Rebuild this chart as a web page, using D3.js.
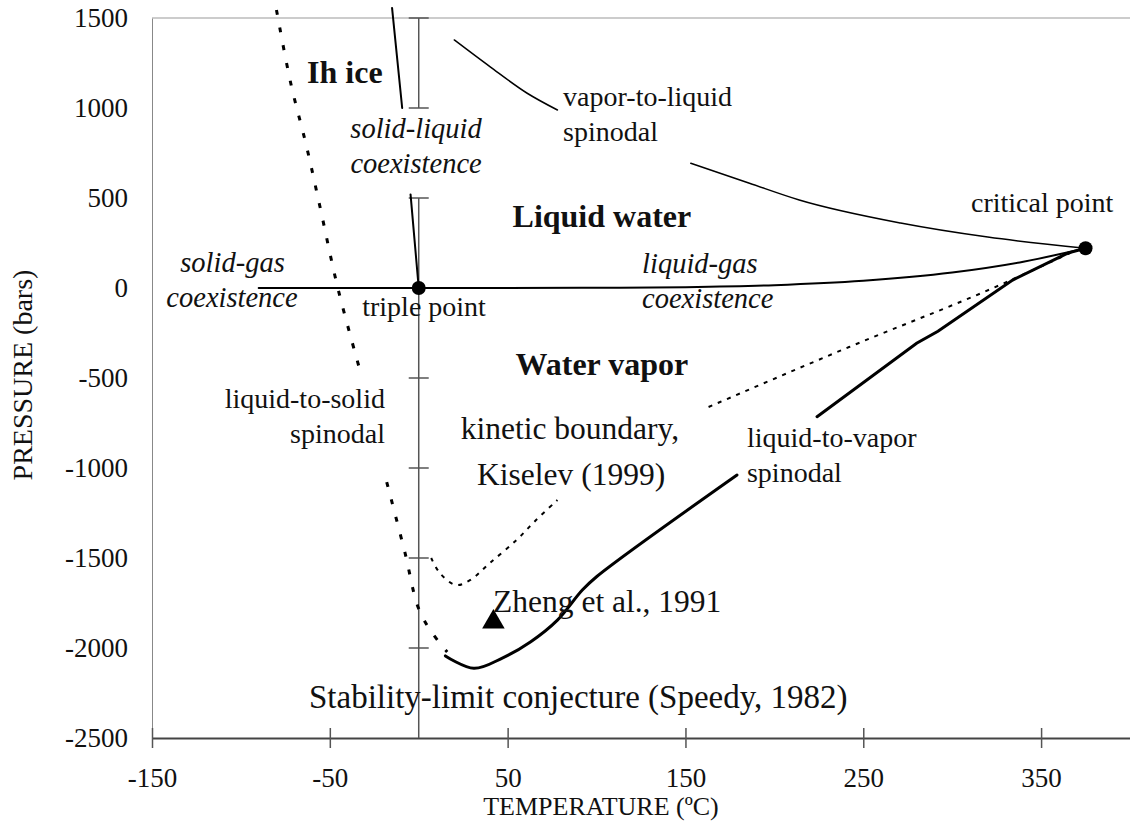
<!DOCTYPE html>
<html>
<head>
<meta charset="utf-8">
<script src="https://cdn.jsdelivr.net/npm/d3@7"></script>
<style>
  body { margin: 0; background: #fff; }
  svg { display: block; font-family: "Liberation Serif", "Times New Roman", serif; }
  svg text { font-family: "Liberation Serif", "Times New Roman", serif; fill: #111; }
</style>
</head>
<body>
<div id="chart"></div>
<script>
// ---- data (T in degC, P in bars) ----
const xTicks = [-150, -50, 50, 150, 250, 350];
const yTicks = [-2500, -2000, -1500, -1000, -500, 0, 500, 1000, 1500];
const zeroAxisTicks = [1500, 1000, 500, 0, -500, -1000, -1500, -2000];

const solidGas = [[-90, 0], [0, 0]];
const liquidGas = [[0, 0], [50, 0.12], [100, 1], [150, 4.8], [200, 15.5], [250, 39.8], [300, 85.9], [340, 146], [375, 221]];
const solidLiquidLow = [[0, 0], [-4.6, 520]];
const solidLiquidHigh = [[-9.3, 1000], [-15, 1556]];
const liqToSolidA = [[-80, 1545], [-72, 1139], [-63, 783], [-55.5, 450], [-45.5, 0], [-32, -494]];
const liqToSolidB = [[-18, -1078], [-7.7, -1472], [-0.4, -1772], [6.4, -1900], [16, -2022]];
const kineticA = [[7, -1500], [12, -1585], [21, -1650], [29, -1622], [40, -1528], [55, -1400], [66, -1289], [78, -1178]];
const kineticB = [[163, -661], [242, -328], [323, 0], [370, 211]];
const liqToVapA = [[15, -2044], [31, -2113], [47, -2056], [63, -1965], [78, -1845], [92, -1678], [100, -1604], [179, -1039]];
const liqToVapB = [[224, -715], [280, -307], [292, -240], [334, 44], [365, 194], [375, 221]];
const vapToLiqA = [[20, 1378], [40, 1230], [61, 1082], [78, 989]];
const vapToLiqB = [[153, 693], [186, 582], [214, 489], [271, 361], [320, 283], [375, 221]];
const triplePoint = [0, 0];
const criticalPoint = [375, 221];
const zheng = [42, -1855];

// labels: [T, P, text, anchor, style]
const labels = [
  [-62.8, 1139, "Ih ice", "start", "bold"],
  [-1.5, 833, "solid-liquid", "middle", "italic"],
  [-1.5, 639, "coexistence", "middle", "italic"],
  [81.2, 1012, "vapor-to-liquid", "start", "normal"],
  [81.2, 815, "spinodal", "start", "normal"],
  [103, 339, "Liquid water", "middle", "bold"],
  [350.6, 425, "critical point", "middle", "normal"],
  [-104.7, 90, "solid-gas", "middle", "italic"],
  [-105, -103, "coexistence", "middle", "italic"],
  [3, -156, "triple point", "middle", "normal"],
  [125.6, 82, "liquid-gas", "start", "italic"],
  [125.6, -111, "coexistence", "start", "italic"],
  [103, -483, "Water vapor", "middle", "bold"],
  [-19, -667, "liquid-to-solid", "end", "normal"],
  [-19, -861, "spinodal", "end", "normal"],
  [85, -840, "kinetic boundary,", "middle", "big"],
  [85.7, -1094, "Kiselev (1999)", "middle", "big"],
  [41.8, -1800, "Zheng et al., 1991", "start", "big"],
  [184.6, -883, "liquid-to-vapor", "start", "normal"],
  [184.6, -1078, "spinodal", "start", "normal"],
  [-61.7, -2333, "Stability-limit conjecture (Speedy, 1982)", "start", "huge"]
];

const width = 1130, height = 825;

const svg = d3.select("#chart").append("svg")
  .attr("width", width)
  .attr("height", height);

const x = d3.scaleLinear().domain([-150, 400]).range([152, 1130]);
const y = d3.scaleLinear().domain([-2500, 1500]).range([738, 18]);

const line = d3.line().x(d => x(d[0])).y(d => y(d[1])).curve(d3.curveMonotoneX);
const straight = d3.line().x(d => x(d[0])).y(d => y(d[1]));
const smooth = d3.line().x(d => x(d[0])).y(d => y(d[1])).curve(d3.curveCatmullRom);

// frame: left axis + top border
const yAxis = svg.append("g")
  .attr("transform", `translate(${x(-150)},0)`)
  .call(d3.axisLeft(y).tickValues(yTicks).tickFormat(d => String(d)).tickSize(0).tickPadding(24));
yAxis.select(".domain").attr("stroke", "#888");
yAxis.selectAll("text").style("font-size", "27px");

svg.append("line")
  .attr("x1", x(-150)).attr("x2", x(400))
  .attr("y1", y(1500)).attr("y2", y(1500))
  .attr("stroke", "#999");

// bottom axis, ticks crossing the line
const xAxis = svg.append("g")
  .attr("transform", `translate(0,${y(-2500)})`)
  .call(d3.axisBottom(x).tickValues(xTicks).tickFormat(d => String(d))
    .tickSizeInner(10).tickSizeOuter(0).tickPadding(20));
xAxis.select(".domain").attr("stroke", "#444").attr("stroke-width", 2);
xAxis.selectAll(".tick line").attr("y1", -10).attr("stroke", "#555").attr("stroke-width", 1.5);
xAxis.selectAll("text").style("font-size", "27px");

// inner axis at T = 0
const zeroAxis = svg.append("g").attr("stroke", "#555").attr("stroke-width", 1.5);
[[1500, 1000], [500, -2500]].forEach(([a, b]) => {
  zeroAxis.append("line")
    .attr("x1", x(0)).attr("x2", x(0))
    .attr("y1", y(a)).attr("y2", y(b));
});
zeroAxis.selectAll(".zt")
  .data(zeroAxisTicks)
  .join("line")
  .attr("class", "zt")
  .attr("x1", x(0) - 10).attr("x2", x(0) + 10)
  .attr("y1", d => y(d)).attr("y2", d => y(d));

// curves
function path(data, gen, w, dash) {
  svg.append("path")
    .datum(data)
    .attr("d", gen)
    .attr("fill", "none")
    .attr("stroke", "#000")
    .attr("stroke-width", w)
    .attr("stroke-dasharray", dash || null)
    .attr("stroke-linecap", dash ? "butt" : "round");
}

path(solidGas, straight, 2);
path(liquidGas, line, 2);
path(solidLiquidLow, straight, 2);
path(solidLiquidHigh, straight, 2);
path(vapToLiqA, line, 1.5);
path(vapToLiqB, line, 1.5);
path(liqToVapA, smooth, 3);
path(liqToVapB, straight, 3);
path(liqToSolidA, smooth, 3, "5,13");
path(liqToSolidB, smooth, 3, "5,13");
path(kineticA, smooth, 2, "4,6");
path(kineticB, line, 2, "4,6");

// points
svg.selectAll(".pt")
  .data([triplePoint, criticalPoint])
  .join("circle")
  .attr("class", "pt")
  .attr("cx", d => x(d[0]))
  .attr("cy", d => y(d[1]))
  .attr("r", 7)
  .attr("fill", "#000");

svg.append("path")
  .attr("d", d3.symbol().type(d3.symbolTriangle).size(220))
  .attr("transform", `translate(${x(zheng[0])},${y(zheng[1])})`)
  .attr("fill", "#000");

// annotations
const styles = {
  bold: { size: 32, weight: "bold", italic: false },
  italic: { size: 28.5, weight: "normal", italic: true },
  normal: { size: 28, weight: "normal", italic: false },
  big: { size: 31.5, weight: "normal", italic: false },
  huge: { size: 33, weight: "normal", italic: false }
};

svg.selectAll(".lab")
  .data(labels)
  .join("text")
  .attr("class", "lab")
  .attr("x", d => x(d[0]))
  .attr("y", d => y(d[1]))
  .attr("text-anchor", d => d[3])
  .style("font-size", d => styles[d[4]].size + "px")
  .style("font-weight", d => styles[d[4]].weight)
  .style("font-style", d => styles[d[4]].italic ? "italic" : "normal")
  .text(d => d[2]);

// axis titles
svg.append("text")
  .attr("x", 601).attr("y", 815)
  .attr("text-anchor", "middle")
  .style("font-size", "26px")
  .text("TEMPERATURE (ºC)");

svg.append("text")
  .attr("transform", "translate(32,375) rotate(-90)")
  .attr("text-anchor", "middle")
  .style("font-size", "28px")
  .text("PRESSURE (bars)");
</script>
</body>
</html>
